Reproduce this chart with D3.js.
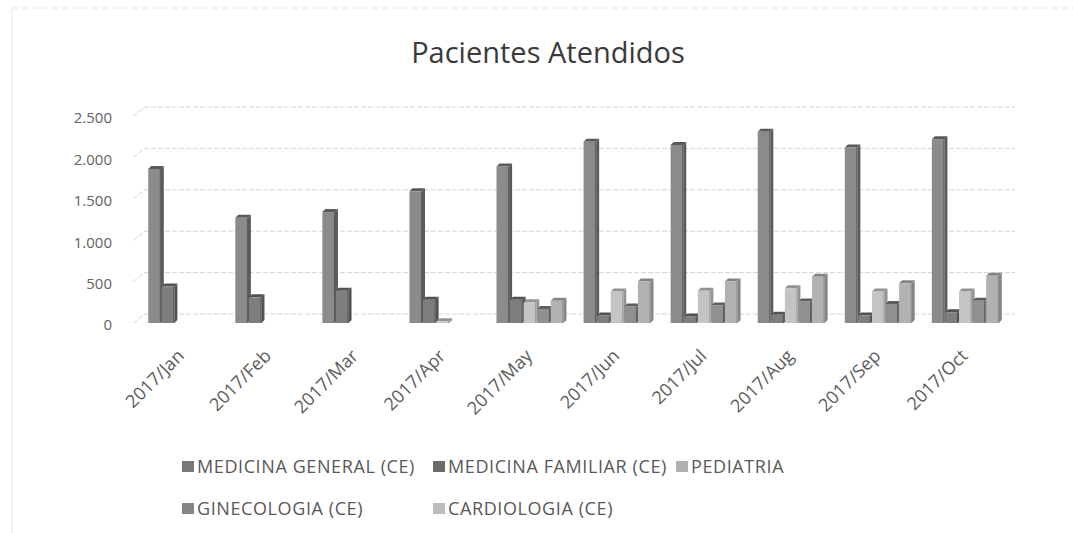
<!DOCTYPE html>
<html><head><meta charset="utf-8">
<script src="https://cdn.jsdelivr.net/npm/d3@7"></script>
<style>body{margin:0;background:#fff}svg{display:block}</style>
</head><body>
<svg id="c" width="1073" height="533"></svg>
<script>
const categories = ["2017/Jan","2017/Feb","2017/Mar","2017/Apr","2017/May","2017/Jun","2017/Jul","2017/Aug","2017/Sep","2017/Oct"];
const seriesNames = ["MEDICINA GENERAL (CE)","MEDICINA FAMILIAR (CE)","PEDIATRIA","GINECOLOGIA (CE)","CARDIOLOGIA (CE)"];
const medicinaGeneral = [1860,1270,1340,1590,1890,2190,2150,2310,2120,2220];
const medicinaFamiliar = [440,310,390,280,280,90,80,100,90,130];
const pediatria = [0,0,0,20,250,380,390,420,380,380];
const ginecologia = [0,0,0,0,170,200,210,260,230,270];
const cardiologia = [0,0,0,0,270,500,500,560,480,570];
const yTicks = [0,500,1000,1500,2000,2500];
const yTickLabels = ["0","500","1.000","1.500","2.000","2.500"];
const title = "Pacientes Atendidos";

const seriesValues = [medicinaGeneral, medicinaFamiliar, pediatria, ginecologia, cardiologia];
const fills = ["#8b8b8b","#7e7e7e","#c4c4c4","#909090","#b2b2b2"];
const sides = ["#5a5a5a","#525252","#939393","#5e5e5e","#848484"];
const legendFills = ["#787878","#6a6a6a","#b0b0b0","#858585","#bdbdbd"];

const svg = d3.select("#c");
const font = "'Open Sans', 'Liberation Sans', sans-serif";

// faint scan border
svg.append("line").attr("x1",12).attr("y1",8).attr("x2",1073).attr("y2",8).attr("stroke","#e4e4e4").attr("stroke-dasharray","6,4");
svg.append("line").attr("x1",12).attr("y1",8).attr("x2",12).attr("y2",533).attr("stroke","#e8e8e8");

const y = d3.scaleLinear().domain([0,2500]).range([323,116]);
const x0 = d3.scaleBand().domain(categories).range([133,1015]).paddingInner(0.22).paddingOuter(0.175);
const x1 = d3.scaleBand().domain(d3.range(5)).range([0,x0.bandwidth()]);

svg.append("text").attr("x",548).attr("y",63).attr("text-anchor","middle")
  .attr("font-family",font).attr("font-size",29).attr("fill","#3a3a3a").text(title);

// gridlines on back wall (3D look)
const g = svg.append("g");
yTicks.forEach(v=>{
  const yy = y(v);
  g.append("path").attr("d",`M133,${yy}L145,${yy-9}L1015,${yy-9}`)
   .attr("fill","none").attr("stroke","#d4d4d4").attr("stroke-width",1).attr("stroke-dasharray","5,2");
});

// y labels
const yAxis = d3.axisLeft(y).tickValues(yTicks).tickFormat((d,i)=>yTickLabels[i]).tickSize(0).tickPadding(0);
const ya = svg.append("g").attr("transform","translate(112,2)").call(yAxis);
ya.select(".domain").remove();
ya.selectAll("text").attr("font-family",font).attr("font-size",15).attr("fill","#626262");

// bars (3D-ish: front face, top face, right side)
const d = 3;
const bars = svg.append("g");
categories.forEach((c,ci)=>{
  seriesValues.forEach((vals,si)=>{
    const v = vals[ci];
    if(!v) return;
    const bw = x1.bandwidth()-1, bx = x0(c)+x1(si), top = y(v), base = y(0);
    bars.append("path").attr("d",`M${bx+bw},${top}L${bx+bw+d},${top-d}L${bx+bw+d},${base-d}L${bx+bw},${base}Z`).attr("fill",sides[si]);
    bars.append("path").attr("d",`M${bx},${top}L${bx+d},${top-d}L${bx+bw+d},${top-d}L${bx+bw},${top}Z`).attr("fill",sides[si]);
    bars.append("rect").attr("x",bx).attr("y",top).attr("width",bw).attr("height",base-top).attr("fill",fills[si]);
    bars.append("path").attr("d",`M${bx+bw-0.5},${top}L${bx+bw-0.5},${base}`).attr("stroke",sides[si]).attr("stroke-width",1);
  });
});

// x labels
const xa = svg.append("g");
categories.forEach(c=>{
  const cx = x0(c)+x0.bandwidth()/2;
  xa.append("text").attr("transform",`translate(${cx+3},${357}) rotate(-45)`)
    .attr("text-anchor","end").attr("font-family",font).attr("font-size",18).attr("fill","#5c5c5c").text(c);
});

// legend
const legPos = [[182,466],[433,466],[676,466],[182,508],[433,508]];
seriesNames.forEach((n,i)=>{
  const [lx,ly] = legPos[i];
  svg.append("rect").attr("x",lx).attr("y",ly-5).attr("width",12).attr("height",11).attr("fill",legendFills[i]);
  svg.append("text").attr("x",lx+15).attr("y",ly+6.5).attr("font-family",font).attr("font-size",18)
    .attr("letter-spacing",0.6).attr("fill","#585858").text(n);
});
</script>
</body></html>
